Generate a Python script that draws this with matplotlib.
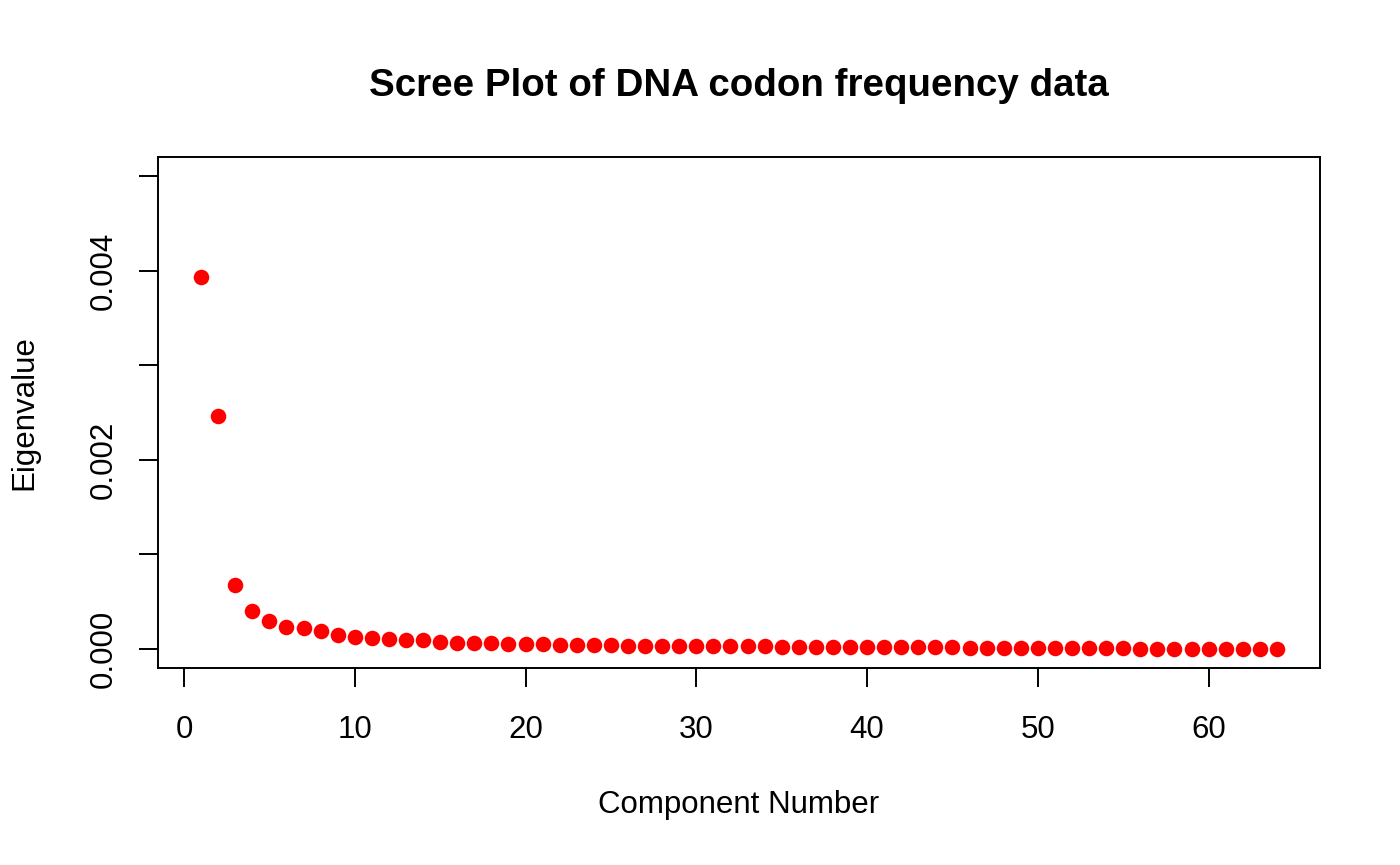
import numpy as np
import matplotlib
matplotlib.use('Agg')
import matplotlib.pyplot as plt

plt.rcParams['font.family'] = ['Liberation Sans', 'DejaVu Sans']

# eigenvalues (x 1e-3)
component = np.arange(1, 65)
eigen_e3 = [3.93, 2.46, 0.68, 0.40, 0.30, 0.236, 0.219, 0.19, 0.151, 0.127,
            0.116, 0.109, 0.098, 0.095, 0.076, 0.068, 0.066, 0.060, 0.056, 0.053,
            0.050, 0.047, 0.043, 0.040, 0.038, 0.036, 0.035, 0.034, 0.033, 0.032,
            0.031, 0.030, 0.029, 0.028, 0.027, 0.026, 0.025, 0.024, 0.023, 0.022,
            0.021, 0.020, 0.019, 0.018, 0.017, 0.016, 0.015, 0.014, 0.013, 0.012,
            0.011, 0.010, 0.009, 0.008, 0.007, 0.006, 0.005, 0.0045, 0.004, 0.0035,
            0.003, 0.002, 0.001, 0.0]
eigenvalue = np.array(eigen_e3) / 1000.0

xticks = [0, 10, 20, 30, 40, 50, 60]
yticks = [0.000, 0.001, 0.002, 0.003, 0.004, 0.005]
ytick_labels = ['0.000', '', '0.002', '', '0.004', '']

fig = plt.figure(figsize=(14, 8.65), dpi=100)
ax = fig.add_axes([158/1400, 1 - 668/865, (1320-158)/1400, (668-157)/865])

ax.plot(component, eigenvalue, 'o', color='#ff0000', markersize=11.2, markeredgewidth=0)

ax.set_xlim(-1.52, 66.52)
ax.set_ylim(-0.0002, 0.0052)
ax.set_xticks(xticks)
ax.set_xticklabels([str(t) for t in xticks])
ax.set_yticks(yticks)
ax.set_yticklabels(ytick_labels, rotation=90, va='center')

for s in ax.spines.values():
    s.set_linewidth(1.4)
ax.tick_params(direction='out', length=13.5, width=1.4, labelsize=22.5)
ax.tick_params(axis='x', pad=20)
ax.tick_params(axis='y', pad=15)

ax.set_title('Scree Plot of DNA codon frequency data', fontsize=27.7, fontweight='bold', pad=44)
ax.set_xlabel('Component Number', fontsize=22.5)
ax.set_ylabel('Eigenvalue', fontsize=22.5)
ax.xaxis.set_label_coords(0.5, -0.268)
ax.xaxis.label.set_va('center')
ax.yaxis.set_label_coords(-0.1153, 0.5)
ax.yaxis.label.set_va('center')

fig.savefig('out.png', dpi=100)
